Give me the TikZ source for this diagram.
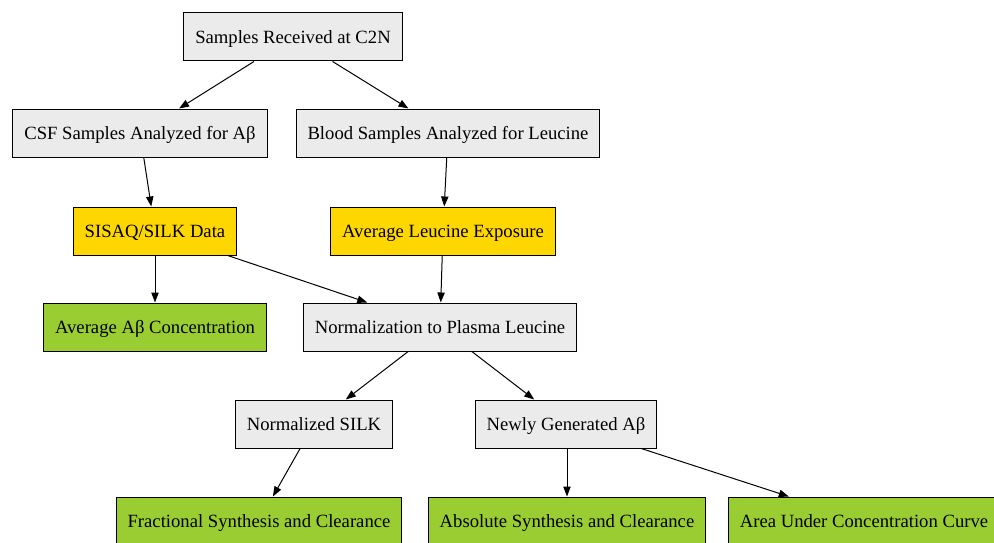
\documentclass[tikz,border=0pt]{standalone}
\usepackage{fontspec}
\setmainfont{Liberation Serif}
\usepackage{tikz}
\usetikzlibrary{arrows.meta}
\definecolor{boxgray}{HTML}{EBEBEB}
\definecolor{boxgold}{HTML}{FFD700}
\definecolor{boxgreen}{HTML}{9ACD32}

\begin{document}
\begin{tikzpicture}[x=0.75pt,y=-0.75pt,
  box/.style={draw, line width=0.75pt, minimum height=36pt, inner xsep=8.5pt, text height=11pt, text depth=1.6pt, font=\fontsize{14}{16}\selectfont},
  graybox/.style={box, fill=boxgray},
  goldbox/.style={box, fill=boxgold},
  greenbox/.style={box, fill=boxgreen},
  edge/.style={-{Triangle[length=7.5pt,width=5.5pt]}, line width=0.75pt}]
\useasboundingbox (0,0) rectangle (994,542);
\node [graybox] (recv) at (293,37) {Samples Received at C2N};
\node [graybox] (csf) at (140,133) {CSF Samples Analyzed for Aβ};
\node [graybox] (blood) at (448,133) {Blood Samples Analyzed for Leucine};
\node [goldbox] (silk) at (155,231) {SISAQ/SILK Data};
\node [goldbox] (leu) at (443,231) {Average Leucine Exposure};
\node [greenbox] (conc) at (155,327) {Average Aβ Concentration};
\node [graybox] (norm) at (440,327) {Normalization to Plasma Leucine};
\node [graybox] (nsilk) at (314,424) {Normalized SILK};
\node [graybox] (newab) at (566,424) {Newly Generated Aβ};
\node [greenbox] (frac) at (259,521) {Fractional Synthesis and Clearance};
\node [greenbox] (abs) at (567,521) {Absolute Synthesis and Clearance};
\node [greenbox] (auc) at (864,521) {Area Under Concentration Curve};
\draw [edge] (recv) -- (csf);
\draw [edge] (recv) -- (blood);
\draw [edge] (csf) -- (silk);
\draw [edge] (blood) -- (leu);
\draw [edge] (silk) -- (conc);
\draw [edge] (silk) -- (norm);
\draw [edge] (leu) -- (norm);
\draw [edge] (norm) -- (nsilk);
\draw [edge] (norm) -- (newab);
\draw [edge] (nsilk) -- (frac);
\draw [edge] (newab.south -| abs) -- (abs);
\draw [edge] (newab) -- (auc);
\end{tikzpicture}
\end{document}
